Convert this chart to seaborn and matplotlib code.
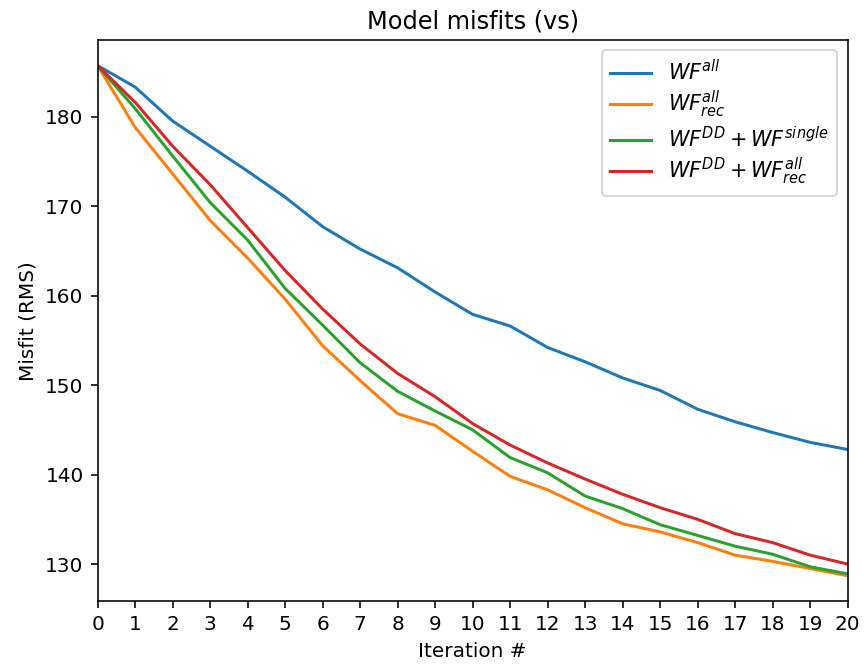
import numpy as np
import pandas as pd
import seaborn as sns
import matplotlib
matplotlib.use('Agg')
import matplotlib.pyplot as plt

iterations = list(range(21))
wf_all = [185.7, 183.3, 179.5, 176.7, 173.9, 171.0, 167.7, 165.2, 163.1, 160.4, 157.9,
          156.6, 154.2, 152.6, 150.8, 149.4, 147.3, 145.9, 144.7, 143.6, 142.8]
wf_all_rec = [185.7, 178.8, 173.6, 168.4, 164.2, 159.6, 154.4, 150.5, 146.8, 145.5, 142.6,
              139.8, 138.3, 136.3, 134.5, 133.6, 132.4, 131.0, 130.3, 129.5, 128.7]
wf_dd_single = [185.7, 180.9, 175.6, 170.4, 166.2, 160.8, 156.7, 152.5, 149.3, 147.1, 145.0,
                141.9, 140.2, 137.6, 136.2, 134.4, 133.2, 132.0, 131.1, 129.7, 128.9]
wf_dd_rec = [185.7, 181.6, 176.7, 172.4, 167.6, 162.8, 158.5, 154.6, 151.3, 148.7, 145.7,
             143.3, 141.3, 139.5, 137.8, 136.3, 135.0, 133.4, 132.4, 131.0, 130.0]
labels = [r'$WF^{all}$', r'$WF^{all}_{rec}$', r'$WF^{DD}+WF^{single}$', r'$WF^{DD}+WF^{all}_{rec}$']

fig, ax = plt.subplots(figsize=(6.0, 4.639), dpi=144)
for vals, lab in zip([wf_all, wf_all_rec, wf_dd_single, wf_dd_rec], labels):
    sns.lineplot(x=iterations, y=vals, label=lab, ax=ax)

ax.set_xlim(0, 20)
ax.set_xticks(iterations)
ax.set_title('Model misfits (vs)')
ax.set_xlabel('Iteration #')
ax.set_ylabel('Misfit (RMS)')
ax.legend(loc='upper right', fontsize=10.4, labelspacing=0.25)
plt.subplots_adjust(left=0.113, right=0.981, top=0.940, bottom=0.100)
plt.savefig('out.png')
